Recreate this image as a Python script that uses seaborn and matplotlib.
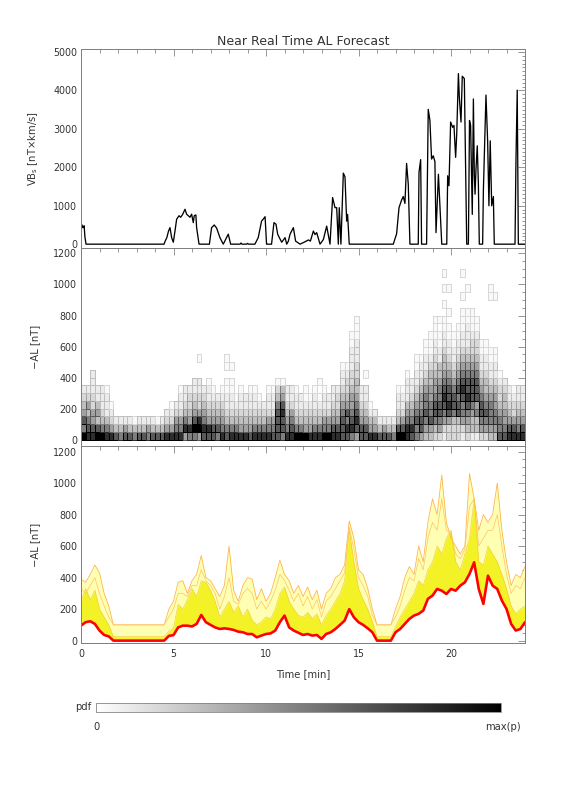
import numpy as np
import matplotlib
matplotlib.use("Agg")
import matplotlib.pyplot as plt
import seaborn as sns
from matplotlib.ticker import MultipleLocator
from matplotlib.colors import LinearSegmentedColormap, PowerNorm, Normalize
from matplotlib.cm import ScalarMappable

sns.set_style("white")
plt.rcParams['font.family'] = ['DejaVu Sans']

# ---------------- data ----------------
# Panel 1: VBs polyline vertices (time [min], value [nT x km/s])
vbs_time = [0.0, 0.03, 0.08, 0.12, 0.17, 0.21, 0.27,
            4.49, 4.55, 4.64, 4.73, 4.81, 4.90, 4.99, 5.08, 5.17, 5.30, 5.39, 5.50, 5.62,
            5.71, 5.80, 5.89, 5.98, 6.07, 6.12, 6.21, 6.25, 6.38,
            6.94, 7.06, 7.15, 7.20, 7.33, 7.51, 7.69, 7.87, 7.96, 8.09,
            8.60, 8.65, 8.70, 8.95, 9.00, 9.05,
            9.40, 9.58, 9.67, 9.76, 9.85, 9.95, 10.03,
            10.30, 10.43, 10.54, 10.63, 10.72, 10.85, 11.03, 11.12, 11.21, 11.30, 11.48, 11.60,
            11.84, 12.10, 12.29, 12.40, 12.56, 12.65, 12.74, 12.92, 13.10, 13.28, 13.46,
            13.60, 13.73, 13.82, 13.91, 13.96, 14.05, 14.18, 14.27, 14.36, 14.41, 14.50,
            16.88, 17.06, 17.19, 17.33, 17.42, 17.51, 17.60, 17.69, 17.78,
            18.23, 18.27, 18.36, 18.41,
            18.68, 18.77, 18.86, 18.95, 19.04, 19.13, 19.19, 19.32, 19.50,
            19.77, 19.82, 19.89, 19.98, 20.09, 20.16, 20.25, 20.31, 20.40, 20.45, 20.54,
            20.61, 20.72, 20.85,
            20.94, 21.00, 21.06, 21.15, 21.21, 21.26, 21.30, 21.35, 21.42, 21.48, 21.53,
            21.71, 21.75, 21.89, 21.98, 22.05, 22.12, 22.20, 22.29, 22.34,
            23.46, 23.51, 23.58, 23.64, 24.0]
vbs_value = [0, 515, 450, 430, 480, 200, 0,
             0, 80, 170, 340, 430, 170, 50, 340, 650, 740, 700, 780, 908,
             780, 740, 700, 780, 560, 740, 760, 430, 0,
             0, 430, 470, 500, 420, 170, 0, 170, 260, 0,
             0, 30, 0, 0, 20, 0,
             0, 170, 390, 600, 650, 715, 0,
             0, 560, 520, 260, 170, 50, 170, 0, 80, 260, 430, 80,
             0, 60, 110, 80, 340, 250, 300, 0, 120, 470, 0,
             1213, 950, 950, 0, 950, 0, 1850, 1750, 600, 775, 0,
             0, 270, 950, 1150, 1240, 1060, 2100, 1560, 0,
             0, 1870, 2200, 0,
             0, 3510, 3220, 2215, 2300, 2150, 300, 1820, 0,
             0, 1780, 1520, 3180, 3040, 3090, 2260, 2870, 4440, 3830, 3180,
             4370, 4310, 0,
             0, 3220, 3090, 775, 3780, 1820, 1300, 1950, 2560, 1560, 0,
             0, 1390, 3880, 2690, 1000, 2690, 1000, 1240, 0,
             0, 2130, 4010, 0, 0]

# Panel 2: pdf of -AL, one string per 0.25-min column, one digit per 50-nT bin (bottom up)
pdf_t0, pdf_dt, pdf_dv = 0.0, 0.25, 50.0
pdf_columns = [
    "9675432", "8764532", "875533222", "9745422", "9643222", "8642221", "85321", "742",
    "642", "752", "742", "641", "742", "742", "652", "742",
    "741", "742", "8532", "85321", "86532", "8653221", "5864322", "6854332",
    "69754322", "59853322001", "7865432", "78543221", "7754321", "675432", "8654321", "76432211011",
    "8643221101", "864321", "8543221", "854322", "7543221", "8643221", "864321", "86432",
    "8653221", "7653221", "77776431", "67787541", "8654322", "8765322", "9643221", "964322",
    "9543211", "854321", "8643221", "86432101", "9653221", "965322", "8754322", "8754332",
    "7776543221", "7867543321", "68765543322211", "5787654433222111", "7754322", "775432201", "85421", "8542",
    "742", "752", "742", "642", "9743221", "9753221", "886542221", "78654322",
    "66765432211", "57765543221", "4567665432211", "45766554432111", "3467765543322111", "3567766544221101",
    "2356787654432211010101", "33578776543221101001",
    "3346776543221100", "334776765432211", "2356678765432211101001", "3456787765432221100100",
    "24456777654332111", "2446577765433211", "3567765432211", "3567654432211",
    "45666543221100000011", "4566554322110000001", "766543321", "76554432",
    "8754322", "8753321", "8654322", "8754322"]

# Panel 3: forecast bands on a 0.25-min grid (t = 0 ... 24)
band_t0, band_dt = 0.0, 0.25
al_red = [95, 117, 123, 106, 64, 36, 27, 0, 0, 0, 0, 0, 0, 0, 0, 0,
          0, 0, 0, 30, 35, 84, 95, 95, 90, 106, 163, 117, 100, 84, 74, 78,
          74, 68, 57, 53, 42, 42, 21, 32, 42, 46, 64, 117, 159, 84, 64, 50,
          36, 42, 32, 36, 11, 42, 53, 74, 100, 127, 200, 148, 117, 100, 78, 53,
          0, 0, 0, 0, 53, 74, 106, 138, 159, 170, 191, 265, 286, 328, 317, 296,
          328, 317, 349, 370, 423, 497, 328, 233, 412, 349, 328, 254, 201, 106, 64, 74,
          117]
al_yellow = [250, 330, 260, 320, 200, 150, 100, 25, 25, 25, 25, 25, 25, 25, 25, 25,
             25, 25, 25, 60, 80, 230, 200, 260, 330, 280, 380, 370, 320, 250, 150, 200,
             250, 180, 220, 150, 200, 130, 100, 120, 150, 140, 200, 300, 340, 250, 200, 160,
             150, 180, 140, 170, 100, 160, 200, 250, 300, 380, 700, 500, 330, 260, 200, 120,
             25, 25, 25, 25, 90, 150, 200, 250, 300, 380, 350, 450, 500, 600, 550, 650,
             700, 500, 450, 550, 650, 900, 500, 480, 600, 550, 500, 420, 330, 220, 170, 200,
             220]
al_mid = [330, 300, 350, 400, 300, 220, 150, 100, 100, 100, 100, 100, 100, 100, 100, 100,
          100, 100, 100, 150, 200, 300, 300, 280, 350, 350, 450, 380, 350, 300, 200, 280,
          400, 250, 230, 300, 330, 300, 200, 250, 200, 250, 320, 420, 380, 320, 250, 300,
          220, 280, 200, 260, 150, 250, 280, 330, 380, 430, 720, 580, 400, 350, 280, 160,
          100, 100, 100, 100, 150, 220, 320, 400, 380, 520, 450, 650, 750, 700, 900, 700,
          680, 550, 520, 580, 850, 900, 600, 650, 700, 700, 800, 600, 420, 300, 350, 330,
          400]
al_env = [390, 370, 420, 480, 430, 300, 220, 100, 100, 100, 100, 100, 100, 100, 100, 100,
          100, 100, 100, 200, 250, 370, 380, 300, 380, 420, 540, 400, 380, 330, 280, 350,
          600, 320, 250, 350, 400, 390, 260, 330, 250, 300, 400, 510, 420, 380, 300, 350,
          280, 340, 260, 320, 200, 300, 330, 400, 420, 480, 760, 650, 450, 420, 330, 200,
          100, 100, 100, 100, 200, 280, 400, 470, 420, 600, 500, 750, 900, 800, 1050, 750,
          650, 600, 550, 600, 1060, 900, 700, 800, 750, 800, 1000, 700, 500, 350, 420, 400,
          470]

colorbar_labels = ["0", "max(p)"]

# ---------------- figure ----------------
W_PX, H_PX = 576, 792
fig = plt.figure(figsize=(W_PX / 72, H_PX / 72), dpi=72)


def fy(px):
    return 1 - px / H_PX


L, W = 81 / W_PX, 444 / W_PX
ax1 = fig.add_axes([L, fy(248), W, (248 - 49) / H_PX])
ax2 = fig.add_axes([L, fy(446), W, (446 - 248) / H_PX])
ax3 = fig.add_axes([L, fy(643), W, (643 - 446) / H_PX])
cax = fig.add_axes([96 / W_PX, fy(712), 405 / W_PX, 9 / H_PX])

AXC = '#808080'
TXC = '#333333'


def style(ax, ymaj, ymin, ylim):
    ax.set_xlim(0, 24)
    ax.set_ylim(*ylim)
    ax.xaxis.set_major_locator(MultipleLocator(5))
    ax.xaxis.set_minor_locator(MultipleLocator(1))
    ax.yaxis.set_major_locator(MultipleLocator(ymaj))
    ax.yaxis.set_minor_locator(MultipleLocator(ymin))
    ax.tick_params(which='both', direction='in', top=True, right=True,
                   color=AXC, labelcolor=TXC, labelsize=9.5, width=0.8)
    ax.tick_params(which='major', length=7, pad=4)
    ax.tick_params(which='minor', length=3.5)
    for s in ax.spines.values():
        s.set_color(AXC)
        s.set_linewidth(1.0)
    ax.grid(False)
    ax.yaxis.set_label_coords(-41 / 444, 0.5)


# Panel 1
sns.lineplot(x=vbs_time, y=vbs_value, ax=ax1, color='black', linewidth=1.3,
             estimator=None, sort=False, legend=False)
style(ax1, 1000, 100, (-100, 5080))
ax1.tick_params(labelbottom=False)
ax1.set_ylabel(r'VB$_\mathrm{s}$ [nT$\times$km/s]', fontsize=10, color=TXC)
ax1.set_title('Near Real Time AL Forecast', fontsize=12.5, color=TXC, pad=4)

# Panel 2
nrows = max(max(len(c) for c in pdf_columns), 24)
Z = np.zeros((nrows, len(pdf_columns)))
for j, col in enumerate(pdf_columns):
    for i, ch in enumerate(col):
        Z[i, j] = int(ch)
x_edges = pdf_t0 + pdf_dt * np.arange(len(pdf_columns) + 1)
y_edges = pdf_dv * np.arange(nrows + 1)
pdf_cmap = LinearSegmentedColormap.from_list('pdf', ['#ffffff', '#000000'])
pdf_cmap.set_bad((1, 1, 1, 0))
pnorm = PowerNorm(gamma=1.7, vmin=0, vmax=9)
Zm = np.ma.masked_equal(Z, 0)
mesh = ax2.pcolormesh(x_edges, y_edges, Zm, cmap=pdf_cmap, norm=pnorm)
# outlines of the cells a bit darker than their fill
edge_rgba = pdf_cmap(pnorm(np.clip(Z + 2.0, 0, 9)).ravel())
edge_rgba[Z.ravel() == 0] = (1, 1, 1, 0)
mesh.set_edgecolor(edge_rgba)
mesh.set_linewidth(0.6)
style(ax2, 200, 50, (-40, 1235))
ax2.tick_params(labelbottom=False)
ax2.set_ylabel('\u2212AL [nT]', fontsize=10, color=TXC)

# Panel 3
band_t = band_t0 + band_dt * np.arange(len(al_red))
ax3.fill_between(band_t, al_red, al_env, color='#ffffb4', linewidth=0)
ax3.fill_between(band_t, al_red, al_yellow, color='#f2f226', linewidth=0)
sns.lineplot(x=band_t, y=al_env, ax=ax3, color='#ffb347', linewidth=0.8,
             estimator=None, legend=False)
sns.lineplot(x=band_t, y=al_mid, ax=ax3, color='#ffc266', linewidth=0.7,
             estimator=None, legend=False)
sns.lineplot(x=band_t, y=al_yellow, ax=ax3, color='#f5c842', linewidth=0.6,
             estimator=None, legend=False)
sns.lineplot(x=band_t, y=al_red, ax=ax3, color='#ff0000', linewidth=2.6,
             estimator=None, legend=False)
style(ax3, 200, 50, (-15, 1235))
ax3.tick_params(axis='x', pad=6)
ax3.set_ylabel('\u2212AL [nT]', fontsize=10, color=TXC)
ax3.set_xlabel('Time [min]', fontsize=10, color=TXC)
ax3.xaxis.set_label_coords(0.5, -26 / 197)

# Colorbar (linear white -> black scale of the pdf)
sm = ScalarMappable(norm=Normalize(vmin=0, vmax=9), cmap=pdf_cmap)
cb = fig.colorbar(sm, cax=cax, orientation='horizontal')
cb.set_ticks([])
cb.outline.set_edgecolor(AXC)
cb.outline.set_linewidth(0.8)
fig.text(91 / W_PX, fy(707), 'pdf', ha='right', va='center', fontsize=10, color=TXC)
fig.text(97 / W_PX, fy(727), colorbar_labels[0], ha='center', va='center', fontsize=10, color=TXC)
fig.text(521 / W_PX, fy(727), colorbar_labels[1], ha='right', va='center', fontsize=10, color=TXC)

fig.savefig('out.png', dpi=72)
